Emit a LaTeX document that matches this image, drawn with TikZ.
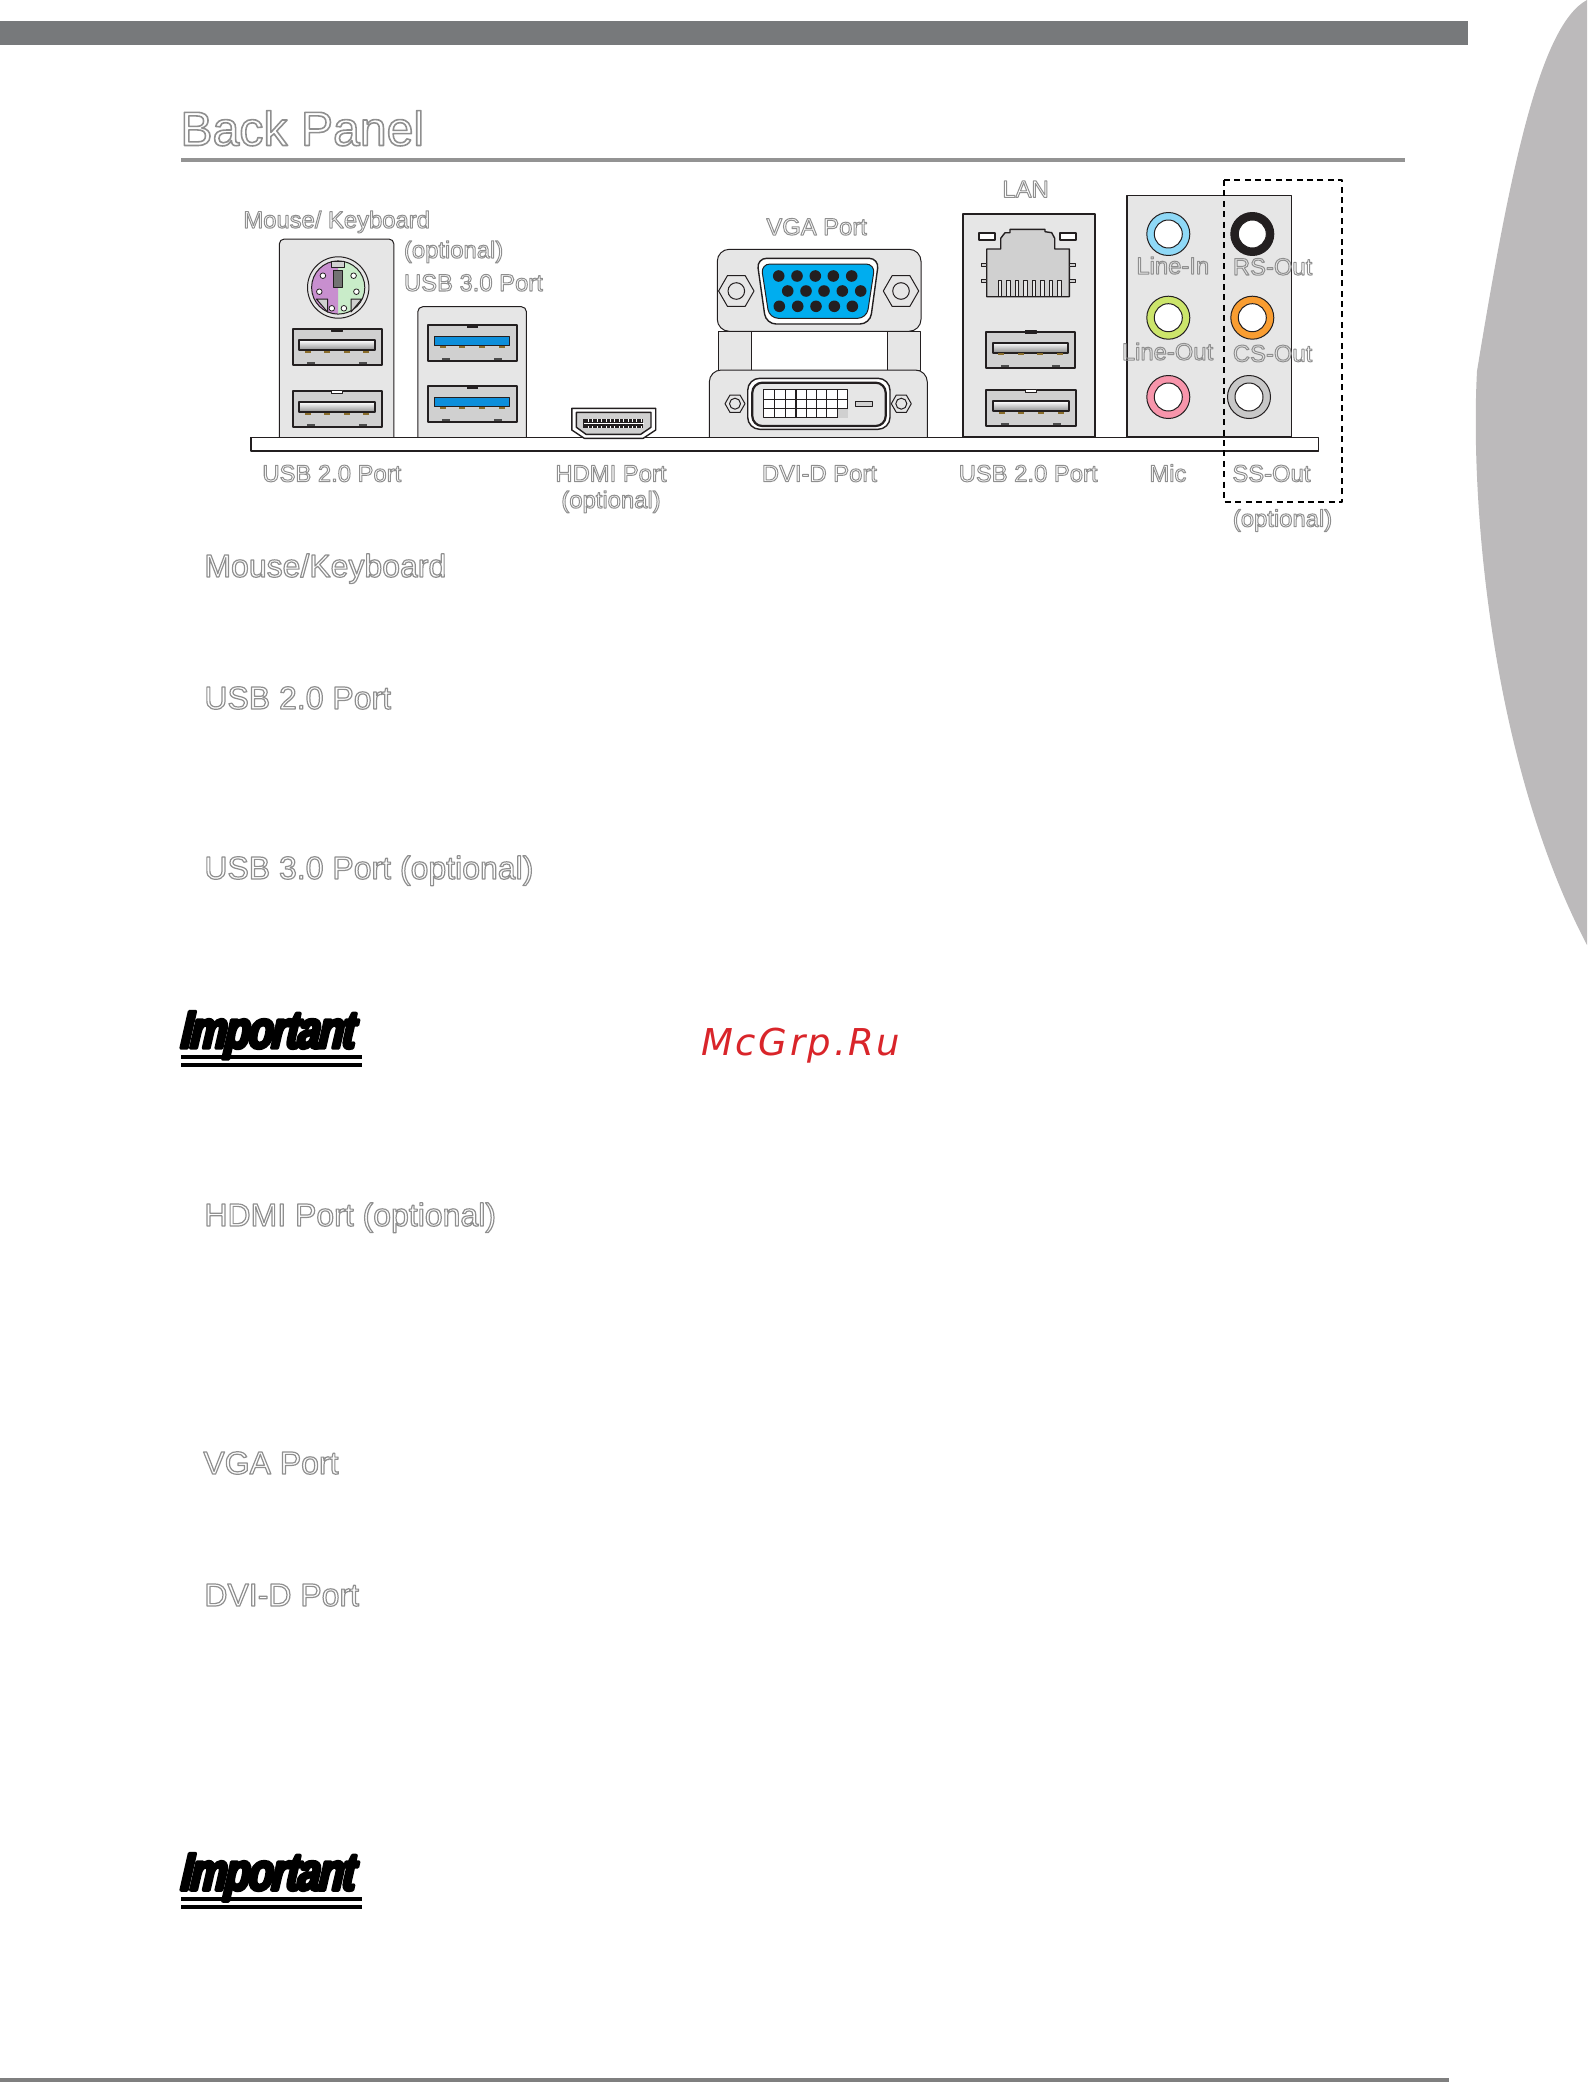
\documentclass[tikz,border=0pt]{standalone}
\usepackage{fontspec}
\setmainfont{Liberation Sans}
\newfontface\logofont{Liberation Sans Bold Italic}[FakeBold=6.5,FakeStretch=0.77,FakeSlant=0.08,LetterSpace=-3.2]
\newfontface\markfont{DejaVu Sans Oblique}[LetterSpace=7]
\usepackage{tikz}

\begin{document}
\begin{tikzpicture}[x=0.5pt,y=-0.5pt,line join=round]
    \definecolor{bargray}{HTML}{77797B}
    \definecolor{footgray}{HTML}{7F7F7F}
    \definecolor{rulegray}{HTML}{939393}
    \definecolor{tabgray}{HTML}{BCBABB}
    \definecolor{plate}{HTML}{E6E6E6}
    \definecolor{socket}{HTML}{D0D0D0}
    \definecolor{ink}{HTML}{231F20}
    \definecolor{brass}{HTML}{8A6D2B}
    \definecolor{usbblue}{HTML}{0D8FDB}
    \definecolor{vgablue}{HTML}{00ADEF}
    \definecolor{mauve}{HTML}{C88FCF}
    \definecolor{mint}{HTML}{C9ECC9}
    \definecolor{markred}{HTML}{D9252A}
    \tikzstyle{outline text}=[inner sep=0pt,anchor=base west,
        execute at begin node={\special{pdf:code 1 Tr 0.5 w 0.56 G}},
        execute at end node={\special{pdf:code 0 Tr 0 G 1 w}}]
    \tikzstyle{title}=[outline text,font=\fontsize{24.1}{28}\selectfont,
        execute at begin node={\special{pdf:code 0.8 w}}]
    \tikzstyle{heading}=[outline text,font=\fontsize{16}{19}\selectfont,
        execute at begin node={\special{pdf:code 0.6 w}}]
    \tikzstyle{port label}=[outline text,font=\fontsize{11.9}{14}\selectfont]
    \tikzstyle{panel}=[draw=ink,line width=0.5pt,fill=plate]
    \tikzstyle{port}=[draw=ink,line width=1pt,fill=socket]
    \tikzstyle{thin}=[draw=ink,line width=0.5pt]
    \tikzstyle{pin}=[thin,fill=white,line width=0.4pt]
    \useasboundingbox (0,0) rectangle (1587,2082);
    % Draw the page furniture
    \fill[bargray] (0,21) rectangle (1468,45);
    \fill[footgray] (0,2078) rectangle (1449,2082);
    \fill[rulegray] (181,158) rectangle (1405,162);
    \fill[tabgray] (1587,0) .. controls (1540,25) and (1510,170) .. (1477,371)
        .. controls (1470,500) and (1490,760) .. (1587,945) -- cycle;
    % Draw the back plates
    \path[panel,rounded corners=2.5pt] (279.3,437) -- (279.3,239) -- (393.9,239) -- (393.9,437);
    \path[panel,rounded corners=2.5pt] (417.8,437) -- (417.8,306.7) -- (526.4,306.7) -- (526.4,437);
    \path[panel] (718.7,331) rectangle (751.7,370);
    \path[panel] (887.3,331) rectangle (920.3,370);
    \path[panel,rounded corners=6pt] (717.3,249.3) rectangle (921,331.3);
    \path[panel,rounded corners=6pt] (709.3,437.3) -- (709.3,370) -- (927.3,370) -- (927.3,437.3);
    \path[panel,line width=1pt] (962.7,214.3) rectangle (1095.3,436.7);
    \path[panel,line width=0.8pt] (1126.7,195.3) rectangle (1291.3,436.7);
    \path[draw=ink,line width=0.5pt,fill=white] (251.4,437.3) rectangle (1318,451);
    \draw[ink,line width=1pt] (251.4,437.3) -- (251.4,451) -- (1318,451);
    % Draw the PS/2 port
    \draw[thin,fill=plate] (338.2,287.5) circle (30.7);
    \fill[mint] (338.2,287.5) circle (26.6);
    \begin{scope}
        \clip (300,250) rectangle (338.2,320);
        \fill[mauve] (338.2,287.5) circle (26.6);
    \end{scope}
    \draw[thin] (338.2,287.5) circle (26.6);
    \path[thin,fill=socket] (331.4,261.3) rectangle (344.3,267.3);
    \path[thin,fill=black!55] (333.2,270.7) rectangle (342.9,287.3);
    \path[thin,fill=socket] (316.4,299) -- (327.5,299) -- (327.5,312) -- cycle;
    \path[thin,fill=socket] (361.8,299) -- (351,299) -- (351,312) -- cycle;
    \foreach \x/\y in {322.9/275.7, 353.6/275.7, 319.3/291.7, 356.4/291.7, 331.8/308.3, 343.9/308.3}
        \draw[pin] (\x,\y) circle (2.8);
    % Draw the USB 2.0 ports
    \foreach \x/\y/\w/\tab in {292.5/329.3/89/ink, 292.5/391.3/89/white, 986.3/331.7/88.4/ink, 986.3/390.3/89.4/white}
    {
        \begin{scope}[shift={(\x,\y)}]
            \path[port] (0,0) rectangle (\w,36);
            \path[thin,fill=\tab] (0.5*\w-5.5,-1) rectangle (0.5*\w+5.5,2);
            \fill[ink] (-1,11) rectangle (1,23);
            \path[port,top color=white,bottom color=black!45] (6.8,11) rectangle (\w-6.8,21);
            \foreach \c in {0.17,0.39,0.61,0.83}
                \fill[brass] (\c*\w-3,21.5) rectangle (\c*\w+3,23.5);
            \foreach \c in {0.21,0.79}
                \fill[black!70] (\c*\w-4,33) rectangle (\c*\w+4,35);
        \end{scope}
    }
    % Draw the USB 3.0 ports
    \foreach \y in {325.3,386.3}
    {
        \begin{scope}[shift={(427.5,\y)}]
            \path[port] (0,0) rectangle (89.3,36);
            \fill[ink] (39,-1) rectangle (50,3);
            \fill[ink] (-1,13) rectangle (1,25);
            \path[port,fill=usbblue,line width=0.7pt] (6.8,11.4) rectangle (82.2,20.4);
            \foreach \c in {0.17,0.39,0.61,0.83}
                \fill[brass] (\c*89.3-3,21) rectangle (\c*89.3+3,23);
            \foreach \c in {0.21,0.79}
                \fill[black!70] (\c*89.3-4,33) rectangle (\c*89.3+4,35);
        \end{scope}
    }
    % Draw the HDMI port
    \path[thin,fill=white,line width=0.7pt] (571.8,408.3) -- (655.7,408.3) -- (655.7,430) -- (643.2,438.3)
        -- (584.3,438.3) -- (571.8,430) -- cycle;
    \path[port,line width=0.7pt] (576.4,412.3) -- (651,412.3) -- (651,427.3) -- (640.7,434.3)
        -- (586,434.3) -- (576.4,427.3) -- cycle;
    \fill[ink] (583.2,419) rectangle (643.2,428);
    \fill[white] (584.2,422.8) rectangle (644,424.3);
    \foreach \i in {1,...,13}
    {
        \fill[white] (583.5+4.4*\i,419) rectangle (584.6+4.4*\i,421.5);
        \fill[white] (583.5+4.4*\i,425.5) rectangle (584.6+4.4*\i,428);
    }
    % Draw the VGA port
    \path[thin,fill=white,line width=0.7pt,rounded corners=5pt] (756.7,258.3) -- (879,258.3) -- (870,324) -- (766,324) -- cycle;
    \path[thin,fill=vgablue,rounded corners=4.5pt] (761,264) -- (875,264) -- (866.7,318.3) -- (769.3,318.3) -- cycle;
    \foreach \x in {778.7,797,815.3,833.3,851.7}
        \fill[ink] (\x,276) circle (5.8);
    \foreach \x in {787.7,806,824,842.3,860.7}
        \fill[ink] (\x,291) circle (5.8);
    \foreach \x in {779.3,797.7,816,834.3,852.3}
        \fill[ink] (\x,306.3) circle (5.8);
    % Draw the hex nuts
    \foreach \x/\y/\r/\s in {736.3/291/17.7/8.3, 901/291/17.7/8.3, 735/403.7/10/5.5, 901.3/403.7/10/5.5}
    {
        \path[thin,fill=plate] (\x+\r,\y) -- (\x+0.5*\r,\y-0.87*\r) -- (\x-0.5*\r,\y-0.87*\r)
            -- (\x-\r,\y) -- (\x-0.5*\r,\y+0.87*\r) -- (\x+0.5*\r,\y+0.87*\r) -- cycle;
        \draw[thin] (\x,\y) circle (\s);
    }
    % Draw the DVI-D port
    \path[thin,fill=white,line width=0.7pt,rounded corners=6pt] (747.7,378.3) rectangle (890,429.3);
    \path[panel,line width=1.1pt,rounded corners=5pt] (752.3,382.7) rectangle (885.7,426);
    \path[thin,fill=white] (763.3,389.3) rectangle (847.7,417.7);
    \fill[socket] (837.7,408) rectangle (847.7,417.7);
    \foreach \x in {774.7,785.3,796,806.3,816.7,826.7,837.7}
        \draw[ink,line width=0.6pt] (\x,389.3) -- (\x,417.7);
    \foreach \y in {399.3,408.3}
        \draw[ink,line width=0.4pt] (763.3,\y) -- (847.7,\y);
    \path[thin,fill=socket] (855.3,401.7) rectangle (872.7,406);
    % Draw the LAN port
    \path[thin,fill=socket,line width=0.7pt] (986.7,296.7) -- (986.7,249) -- (1000.7,249) -- (1000.7,238.3)
        -- (1005,232.7) -- (1010,232.7) -- (1010,229.3) -- (1045,229.3) -- (1045,231.7) -- (1051.7,232.7)
        -- (1054.7,238.3) -- (1054.7,249) -- (1069.3,249) -- (1069.3,296.7) -- cycle;
    \foreach \y in {263.3,279}
    {
        \path[thin,fill=socket] (981.3,\y) rectangle (986.7,\y+3.3);
        \path[thin,fill=socket] (1069.3,\y) rectangle (1075,\y+3.3);
    }
    \foreach \x in {979.3,1060}
        \path[thin,fill=white,line width=0.9pt] (\x,233) rectangle (\x+15.7,240.3);
    \foreach \i in {0,...,7}
        \path[thin,fill=plate] (998+8.5*\i,280.7) rectangle (1001.5+8.5*\i,296);
    % Draw the audio jacks
    \foreach \x/\y/\col in {1168.3/234/8FD9F7, 1252.3/234/231F20, 1168.3/317.7/CCE56B, 1252.3/317.7/F99D31, 1168.3/397/F795AB, 1249/397/C8C8C8}
    {
        \definecolor{jack}{HTML}{\col}
        \path[thin,fill=jack] (\x,\y) circle (21.5);
        \path[thin,fill=white] (\x,\y) circle (14);
    }
    % Draw the optional frame
    \draw[black,line width=0.8pt,dash pattern=on 3pt off 2.2pt] (1224,180) rectangle (1342,501.7);
    % Annotate the picture
    \node[title] (title) at (180,145.5) {Back Panel};
    \node[port label] (P-1) at (243,228) {Mouse/ Keyboard};
    \foreach \i/\x/\y/\name in {2/403.6/258/(optional), 3/403.6/291/USB 3.0 Port, 4/262/481.7/USB 2.0 Port,
        5/555/481.7/HDMI Port, 6/561/508/(optional), 7/766/235/VGA Port, 8/761.5/481.7/DVI-D Port,
        9/1002/197.3/LAN, 10/958.3/481.7/USB 2.0 Port, 11/1136/274/Line-In, 12/1232.5/275/RS-Out,
        13/1121.5/360/Line-Out, 14/1232.5/361.7/CS-Out, 15/1149/481.7/Mic, 16/1232/481.7/SS-Out,
        17/1232.5/526.7/(optional)}
        \node[port label] (P-\i) at (\x,\y) {\name};
    \node[heading] (H-1) at (204,577) {Mouse/Keyboard};
    \foreach \i/\x/\y/\name in {2/204/709/USB 2.0 Port, 3/204/879/USB 3.0 Port (optional),
        4/204/1226/HDMI Port (optional), 5/203/1474/VGA Port, 6/204/1606/DVI-D Port}
        \node[heading] (H-\i) at (\x,\y) {\name};
    % Draw the notes
    \foreach \i/\y in {1/1048,2/1890}
    {
        \node[inner sep=0pt,anchor=base west,font=\logofont\fontsize{26.5}{30}\selectfont] (N-\i) at (180,\y) {Important};
        \fill[black] (181,\y+7) rectangle (362,\y+11);
        \fill[black] (181,\y+15) rectangle (362,\y+19);
    }
    \node[inner sep=0pt,anchor=base west,text=markred,font=\markfont\fontsize{18.5}{22}\selectfont] (mark) at (701,1055.7) {McGrp.Ru};
\end{tikzpicture}
\end{document}
